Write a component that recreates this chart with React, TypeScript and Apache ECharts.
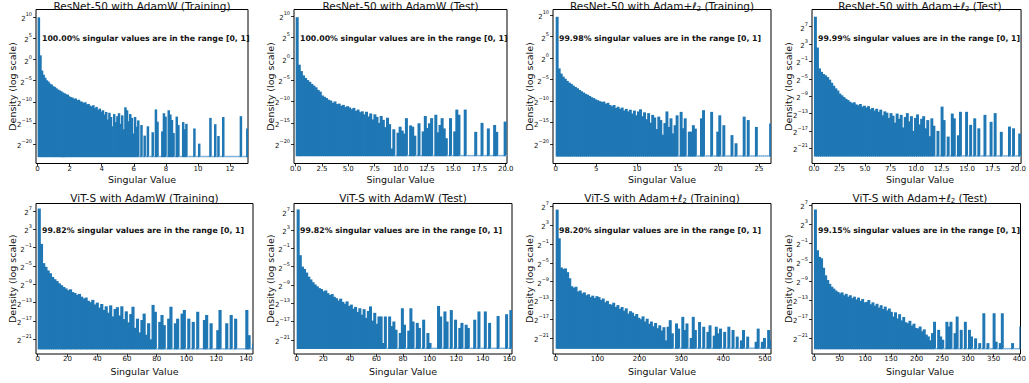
import React, { useEffect, useRef } from 'react';
import * as echarts from 'echarts';

const FONT = '"DejaVu Sans", "Liberation Sans", sans-serif';

// log2(density) of each histogram bin; null = empty bin
const resnetAdamwTrain: (number | null)[] = [
  10.0, 1.0, -2.6, -3.6, -4.3, -4.9, -5.2, -5.7, -5.9, -6.3,
  -6.5, -6.8, -7.1, -7.3, -7.5, -7.8, -8.0, -8.2, -8.3, -8.7,
  -8.9, -9.0, -9.3, -9.2, -9.6, -9.5, -9.9, -10.0, -10.3, -10.1,
  -10.6, -10.5, -10.9, -11.1, -10.8, -11.5, -11.2, -11.9, -11.6, -12.3,
  -12.0, -13.0, -12.4, -14.2, -12.6, -13.6, -15.8, -12.9, -14.8, -13.4,
  -12.7, -15.2, -13.2, -16.5, -11.3, -12.0, -14.6, -12.9, -13.8, -17.5,
  -13.6, -15.9, -14.4, null, -15.5, null, -18.0, null, -15.8, null,
  null, -17.2, null, -11.8, -14.7, null, null, -17.0, -12.7, -13.5,
  null, -12.0, -13.0, -14.3, -17.4, null, -13.5, -15.5, null, null,
  -14.8, -16.5, -15.2, null, null, null, null, -16.3, null, null,
  -19.9, null, null, null, null, null, null, -13.8, null, null,
  -15.3, null, -18.1, null, null, -13.6, null, null, null, null,
  null, null, null, null, null, null, -13.4, null, null, null,
  -16.3,
];

const resnetAdamwTest: (number | null)[] = [
  9.7, -1.4, -2.9, -3.9, -4.5, -5.0, -5.4, -5.9, -6.3, -6.7,
  -7.3, -7.7, -8.6, -8.9, -9.2, -9.6, -9.8, -10.3, -10.0, -10.6,
  -10.5, -11.0, -10.8, -11.3, -11.1, -11.4, -11.8, -11.5, -12.2, -11.9,
  -12.5, -12.3, -13.0, -12.4, -13.5, -12.8, -14.2, -13.0, -13.6, -15.0,
  -13.4, -14.3, -16.0, -13.8, -15.3, -21.0, -16.5, null, -17.3, -15.9,
  -16.8, -17.5, -13.9, null, -15.6, -15.9, -18.0, null, -15.1, null,
  -17.0, -13.4, -16.2, -15.1, -13.9, null, -13.1, -17.2, -15.5, -13.9,
  -16.3, -18.6, null, -13.9, null, -17.0, -11.9, -13.1, null, null,
  -11.9, null, null, null, null, -17.1, null, null, -15.0, null,
  null, -16.3, null, null, -15.5, -17.1, null, null, null, -14.7,
  null,
];

const resnetAdamL2Train: (number | null)[] = [
  9.6, -2.4, -3.6, -4.3, -4.8, -5.3, -5.7, -6.0, -6.4, -6.7,
  -7.0, -7.4, -7.7, -8.0, -8.3, -8.5, -8.8, -9.1, -9.3, -9.6,
  -9.8, -10.0, -10.2, -10.1, -10.6, -10.4, -10.9, -11.2, -10.9, -11.6,
  -11.3, -11.8, -11.5, -12.2, -11.8, -12.4, -12.0, -12.9, -12.2, -13.3,
  -12.4, -11.9, -13.5, -12.6, -14.2, -12.8, -15.0, -13.2, -13.8, -16.5,
  -13.6, -14.4, -17.8, -15.1, -12.4, -16.0, -14.0, -17.5, -15.6, -13.3,
  null, -12.5, -16.3, -14.0, null, -17.1, -17.1, -15.6, -16.4, null,
  null, -14.0, -12.1, null, null, null, -12.5, null, null, -17.1,
  -13.3, null, -15.6, null, null, null, -17.9, null, -19.8, null,
  null, null, -13.6, null, -14.4, null, null, null, -16.0, null,
  null, null, null, null, null, -15.2,
];

const resnetAdamL2Test: (number | null)[] = [
  9.3, 2.2, -2.6, -3.4, -3.9, -4.2, -4.6, -5.2, -5.9, -6.6,
  -7.2, -7.7, -8.4, -8.8, -9.2, -9.6, -9.9, -10.3, -10.6, -10.4,
  -10.9, -11.1, -10.8, -11.4, -11.2, -11.6, -11.3, -12.0, -11.7, -12.3,
  -11.9, -12.6, -12.1, -13.4, -12.5, -12.8, -14.0, -12.9, -13.5, -15.1,
  -13.0, -14.2, -13.3, -16.2, -13.8, -12.9, -14.8, -13.6, -17.0, -14.0,
  -13.2, -15.5, -14.2, -13.6, -16.4, -14.5, -18.2, -14.1, -15.8, null,
  -17.0, null, -11.4, -14.5, null, -18.3, null, -13.0, -14.1, null,
  -18.0, -12.6, null, null, -12.6, null, -15.6, null, -14.1, null,
  -16.4, null, null, -13.3, null, null, -14.9, null, -12.9, null,
  null, -17.2, null, null, null, -16.0, null, -16.4, null, null,
  -17.6, null,
];

const vitAdamwTrain: (number | null)[] = [
  7.5, -0.2, -4.4, -5.2, -6.0, -6.6, -7.4, -7.9, -8.3, -8.8,
  -9.2, -9.6, -9.9, -10.3, -10.1, -10.7, -10.9, -11.3, -11.1, -11.7,
  -12.1, -11.9, -12.6, -12.9, -12.4, -13.4, -13.0, -14.1, -13.3, -14.6,
  -13.8, -15.2, -13.6, -16.0, -14.4, -14.0, -15.8, -13.8, -16.6, -14.9,
  -17.3, -15.5, -13.9, -18.5, -16.5, -19.5, -16.8, -15.4, -20.0, -17.5,
  -21.0, -13.5, -15.0, null, -17.2, -15.7, -17.9, null, -16.5, -13.9,
  null, -17.5, -16.5, null, -15.4, -14.6, null, -16.5, null, -17.2,
  null, -15.0, null, null, -16.8, -15.7, null, -17.5, null, null,
  -19.0, -14.6, null, null, -17.5, null, -15.7, null, -16.5, null,
  null, null, null, -14.6, -20.1, null, -21.9,
];

const vitAdamwTest: (number | null)[] = [
  7.5, -2.5, -5.0, -5.5, -6.3, -7.2, -7.8, -8.4, -8.9, -9.3,
  -9.7, -9.9, -10.4, -10.2, -10.8, -11.2, -11.0, -11.6, -11.9, -12.4,
  -12.0, -12.7, -13.1, -12.6, -13.6, -13.3, -14.2, -13.8, -14.9, -14.1,
  -15.5, -14.3, -16.2, -14.7, -13.7, -16.8, -15.1, -17.5, -15.9, -15.9,
  -21.7, -15.9, null, -15.9, -18.0, -17.0, -18.8, null, -19.5, -14.1,
  -17.7, null, -19.0, -14.1, -17.0, null, -17.3, -18.4, null, -16.6,
  null, -19.5, -21.7, null, null, null, -13.6, -15.9, null, -14.8,
  -17.0, null, -14.5, null, -16.6, null, -18.4, -17.3, null, -17.7,
  -18.4, null, null, -16.6, null, -14.8, null, null, -14.8, null,
  -17.3, null, null, null, -15.8, null, null, null, -15.4, null,
  -14.5, null,
];

const vitAdamL2Train: (number | null)[] = [
  6.3, 0.2, -6.0, -6.3, -6.2, -7.0, -8.3, -10.0, -10.3, -10.1,
  -11.1, -10.9, -11.5, -11.3, -11.9, -11.7, -12.3, -12.0, -12.5, -12.1,
  -12.3, -12.9, -12.6, -13.4, -13.1, -13.8, -13.9, -13.5, -14.4, -14.0,
  -14.8, -14.4, -15.2, -14.7, -15.8, -15.3, -15.6, -16.3, -15.9, -16.7,
  -17.0, -16.4, -17.5, -16.9, -18.0, -17.5, -18.5, -17.8, -18.9, -18.3,
  -19.4, -18.7, -21.5, -18.6, -17.2, -20.0, null, -17.9, -19.0, null,
  -16.5, -19.3, -17.9, null, -21.0, -16.5, -19.3, null, -17.6, null,
  -18.6, null, -19.7, -18.3, null, -20.5, -18.6, -20.0, -19.0, null,
  -19.7, null, -18.6, null, -19.3, null, -20.7, null, -21.5, -19.3,
  null, -20.7, null, null, null, -21.8, -19.0, null, -21.8, -21.0,
  null, -19.3, -21.5,
];

const vitAdamL2Test: (number | null)[] = [
  6.1, -2.5, -3.9, -4.2, -6.2, -7.8, -8.8, -9.6, -10.2, -10.6,
  -11.0, -11.3, -11.6, -11.4, -12.0, -11.7, -12.3, -12.0, -12.6, -12.3,
  -12.9, -12.5, -13.2, -12.8, -13.5, -13.4, -13.0, -13.9, -13.5, -14.2,
  -13.8, -14.6, -14.1, -14.9, -14.4, -15.2, -14.8, -15.5, -16.5, -15.6,
  -16.9, -16.0, -17.3, -16.6, -17.7, -17.9, -17.4, -18.4, -18.0, -18.9,
  -19.0, -18.6, -19.6, -19.2, -20.3, -20.7, -21.5, -20.0, -17.6, null,
  -19.3, -20.7, -21.4, null, -17.6, -18.6, -17.6, null, -20.0, -16.5,
  null, -19.3, null, -17.6, null, -19.3, -20.7, null, -21.1, null,
  -22.1, null, -15.8, null, -22.1, null, null, -15.8, -21.8, null,
  -22.1, -15.8, null, null, null, null, -22.1, null, null, null,
  -18.6,
];

const binValues = [
  resnetAdamwTrain, resnetAdamwTest, resnetAdamL2Train, resnetAdamL2Test,
  vitAdamwTrain, vitAdamwTest, vitAdamL2Train, vitAdamL2Test,
];
const binWidths = [0.1, 0.2, 0.25, 0.2, 1.5, 1.6, 5, 4];
const floorExps = [-23.1, -22.8, -22.9, -22.9, -23.2, -23.0, -23.3, -23.4];
const models = ['ResNet-50', 'ResNet-50', 'ResNet-50', 'ResNet-50', 'ViT-S', 'ViT-S', 'ViT-S', 'ViT-S'];
const optimizers = ['AdamW', 'AdamW', 'Adam+ℓ2', 'Adam+ℓ2', 'AdamW', 'AdamW', 'Adam+ℓ2', 'Adam+ℓ2'];
const splits = ['Training', 'Test', 'Training', 'Test', 'Training', 'Test', 'Training', 'Test'];
const inRangePct = ['100.00%', '100.00%', '99.98%', '99.99%', '99.82%', '99.82%', '98.20%', '99.15%'];
const xTickValues = [
  [0, 2, 4, 6, 8, 10, 12],
  [0, 2.5, 5, 7.5, 10, 12.5, 15, 17.5, 20],
  [0, 5, 10, 15, 20, 25],
  [0, 2.5, 5, 7.5, 10, 12.5, 15, 17.5, 20],
  [0, 20, 40, 60, 80, 100, 120, 140],
  [0, 20, 40, 60, 80, 100, 120, 140, 160],
  [0, 100, 200, 300, 400, 500],
  [0, 50, 100, 150, 200, 250, 300, 350, 400],
];
const xDecimals = [0, 1, 0, 1, 0, 0, 0, 0];
const yTickExpsA = [10, 5, 0, -5, -10, -15, -20];
const yTickExpsB = [7, 3, -1, -5, -9, -13, -17, -21];
const yTickExps = [yTickExpsA, yTickExpsA, yTickExpsA, yTickExpsB, yTickExpsB, yTickExpsB, yTickExpsB, yTickExpsB];
const xExtents = [
  [-0.1, 13.12], [-0.16, 20.12], [-0.33, 26.48], [-0.19, 20.28],
  [-1.14, 144.7], [-2.0, 162.0], [-6.4, 514.2], [-3.8, 402.3],
];
const yExtents = [
  [-24.6, 11.85], [-24.5, 11.5], [-24.5, 11.3], [-24.5, 10.96],
  [-24.2, 8.6], [-24.1, 8.8], [-24.4, 7.6], [-24.4, 7.36],
];

// layout (pixels)
const gridLefts = [36, 294, 553, 812, 36, 294, 553, 812];
const gridWidths = [212, 213, 218, 216, 217, 218, 218, 216];
const rowTops = [9.5, 203.5];
const rowHeights = [154, 150.5];

const BAR = '#1f77b4';
const FLOOR = '#7fb1d9';
const INK = '#111';

function fmtExp(n: number) {
  return n < 0 ? '\u2212' + Math.abs(n) : String(n);
}

function titleRich(i: number) {
  const opt = optimizers[i];
  if (opt.indexOf('ℓ') >= 0) {
    return `{t|${models[i]} with Adam+}{l|ℓ}{s|2}{t| (${splits[i]})}`;
  }
  return `{t|${models[i]} with ${opt} (${splits[i]})}`;
}

export default function App() {
  const ref = useRef<HTMLDivElement>(null);
  useEffect(() => {
    if (!ref.current) return;
    const chart = echarts.init(ref.current, undefined, { renderer: 'svg' });
    const grids: any[] = [];
    const xAxes: any[] = [];
    const yAxes: any[] = [];
    const series: any[] = [];
    const graphics: any[] = [];

    for (let i = 0; i < 8; i++) {
      const row = i < 4 ? 0 : 1;
      const top = rowTops[row];
      const height = rowHeights[row];
      const left = gridLefts[i];
      const width = gridWidths[i];
      grids.push({
        left, top, width, height,
        show: true, borderColor: '#000', borderWidth: 1, backgroundColor: 'transparent',
        containLabel: false,
      });
      const dec = xDecimals[i];
      xAxes.push({
        type: 'value', gridIndex: i, position: 'bottom',
        min: xExtents[i][0], max: xExtents[i][1],
        axisLine: { show: false, onZero: false },
        splitLine: { show: false },
        axisTick: { show: true, length: 3, lineStyle: { color: '#000', width: 0.8 }, customValues: xTickValues[i] },
        axisLabel: {
          customValues: xTickValues[i], margin: 1.5, fontSize: 7, color: INK, fontFamily: FONT,
          formatter: (v: number) => (dec ? v.toFixed(1) : String(Math.round(v))),
        },
      });
      yAxes.push({
        type: 'value', gridIndex: i, position: 'left',
        min: yExtents[i][0], max: yExtents[i][1],
        axisLine: { show: false, onZero: false },
        splitLine: { show: false },
        axisTick: { show: true, length: 3, lineStyle: { color: '#000', width: 0.8 }, customValues: yTickExps[i] },
        axisLabel: {
          customValues: yTickExps[i], margin: 4, color: INK, fontFamily: FONT,
          formatter: (v: number) => `{b|2}{e|${fmtExp(Math.round(v))}}`,
          rich: {
            b: { fontSize: 7, fontFamily: FONT, color: INK, lineHeight: 11, verticalAlign: 'bottom' },
            e: { fontSize: 5, fontFamily: FONT, color: INK, lineHeight: 11, verticalAlign: 'top' },
          },
        },
      });

      const w = binWidths[i];
      const floor = floorExps[i];
      const data = binValues[i].map((v, k) => [k * w, (k + 1) * w, v == null ? floor : v, v == null ? 1 : 0]);
      series.push({
        type: 'custom', xAxisIndex: i, yAxisIndex: i,
        data,
        encode: { x: [0, 1], y: 2 },
        renderItem: (params: any, api: any) => {
          const x0 = api.value(0);
          const x1 = api.value(1);
          const e = api.value(2);
          const empty = api.value(3) === 1;
          const bl = api.coord([x0, floor]);
          const tr = api.coord([x1, e]);
          const rect = empty
            ? { x: bl[0], y: bl[1] - 1.3, width: tr[0] - bl[0] + 0.9, height: 1.3 }
            : { x: bl[0], y: tr[1], width: tr[0] - bl[0] + 0.9, height: bl[1] - tr[1] };
          const cs = params.coordSys;
          const clipped = echarts.graphic.clipRectByRect(rect, { x: cs.x, y: cs.y, width: cs.width, height: cs.height });
          if (!clipped) return null;
          return { type: 'rect', shape: clipped, style: { fill: empty ? FLOOR : BAR } };
        },
        silent: true,
      });

      const cx = left + width / 2;
      const titleY = row === 0 ? 5.5 : 197.5;
      graphics.push({
        type: 'text', x: cx, y: titleY, silent: true,
        style: {
          text: titleRich(i), align: 'center', verticalAlign: 'middle',
          rich: {
            t: { fontSize: 10.5, fontFamily: FONT, fill: INK, lineHeight: 13, verticalAlign: 'middle' },
            l: { fontSize: 10.5, fontFamily: FONT, fontStyle: 'italic', fill: INK, lineHeight: 13, verticalAlign: 'middle' },
            s: { fontSize: 7, fontFamily: FONT, fill: INK, lineHeight: 13, verticalAlign: 'bottom' },
          },
        },
      });
      graphics.push({
        type: 'text', x: left + 6, y: row === 0 ? 38 : 230.7, silent: true,
        style: {
          text: `${inRangePct[i]} singular values are in the range [0, 1]`,
          fontSize: 7.8, fontWeight: 'bold', fontFamily: FONT, fill: INK,
          align: 'left', verticalAlign: 'middle',
        },
      });
      graphics.push({
        type: 'text', x: cx, y: row === 0 ? 179.5 : 371.7, silent: true,
        style: {
          text: 'Singular Value', fontSize: 9.5, fontFamily: FONT, fill: INK,
          align: 'center', verticalAlign: 'middle',
        },
      });
      graphics.push({
        type: 'text', x: left - 24, y: top + height / 2, rotation: Math.PI / 2, silent: true,
        style: {
          text: 'Density (log scale)', fontSize: 9.5, fontFamily: FONT, fill: INK,
          align: 'center', verticalAlign: 'middle',
        },
      });
    }

    chart.setOption({
      animation: false,
      backgroundColor: '#fff',
      textStyle: { fontFamily: FONT },
      grid: grids,
      xAxis: xAxes,
      yAxis: yAxes,
      series,
      graphic: graphics,
    });
    return () => chart.dispose();
  }, []);

  return (
    <div
      ref={ref}
      style={{ position: 'absolute', left: 0, top: 0, width: 1029, height: 383 }}
    />
  );
}
